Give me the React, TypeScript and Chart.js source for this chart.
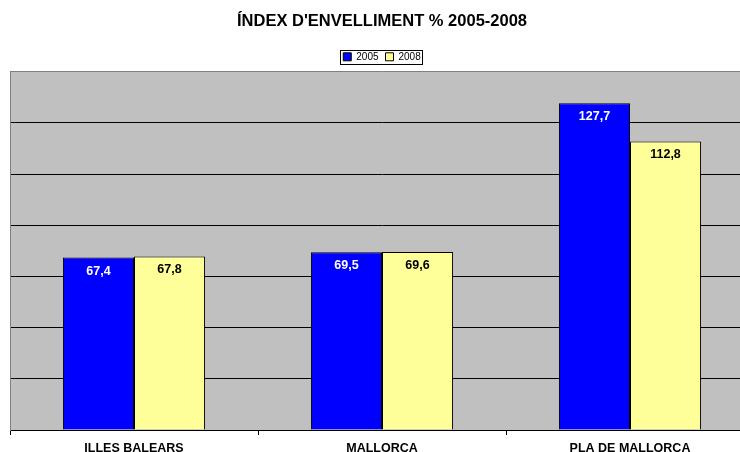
import React, { useEffect, useRef } from "react";
import { Chart, registerables } from "chart.js";

Chart.register(...registerables);

const categories = ["ILLES BALEARS", "MALLORCA", "PLA DE MALLORCA"];
const values2005 = [67.4, 69.5, 127.7];
const values2008 = [67.8, 69.6, 112.8];
const seriesLabels = ["2005", "2008"];
const yMax = 140;
const yStep = 20;

const FONT = "Arial, 'Liberation Sans', Helvetica, sans-serif";

const bgPlugin = {
  id: "plotBg",
  beforeDraw(chart: any) {
    const { ctx, chartArea } = chart;
    ctx.save();
    ctx.fillStyle = "#C0C0C0";
    ctx.fillRect(chartArea.left, chartArea.top, chartArea.right - chartArea.left, chartArea.bottom - chartArea.top);
    ctx.restore();
  },
  afterDraw(chart: any) {
    const lg = chart.legend;
    const { ctx } = chart;
    if (lg && lg.legendHitBoxes && lg.legendHitBoxes.length) {
      const boxes = lg.legendHitBoxes;
      let l = Infinity, r = -Infinity, t = Infinity, b = -Infinity;
      boxes.forEach((h: any) => {
        l = Math.min(l, h.left);
        r = Math.max(r, h.left + h.width);
        t = Math.min(t, h.top);
        b = Math.max(b, h.top + h.height);
      });
      ctx.save();
      ctx.strokeStyle = "#000";
      ctx.lineWidth = 1;
      const x0 = Math.round(l - 3) + 0.5;
      const y0 = Math.round(t - 2) + 0.5;
      ctx.strokeRect(x0, y0, Math.round(r - l + 5), Math.round(b - t + 4));
      ctx.restore();
    }
  },
};

const labelPlugin = {
  id: "valueLabels",
  afterDatasetsDraw(chart: any) {
    const { ctx } = chart;
    ctx.save();
    ctx.font = `bold 12.5px ${FONT}`;
    ctx.textAlign = "center";
    ctx.textBaseline = "middle";
    chart.data.datasets.forEach((ds: any, di: number) => {
      const meta = chart.getDatasetMeta(di);
      meta.data.forEach((bar: any, i: number) => {
        const v = ds.data[i] as number;
        ctx.fillStyle = di === 0 ? "#FFFFFF" : "#000000";
        ctx.fillText(v.toFixed(1).replace(".", ","), bar.x, bar.y + 13.5);
      });
    });
    ctx.restore();
  },
};

export default function App() {
  const ref = useRef<HTMLCanvasElement | null>(null);
  useEffect(() => {
    if (!ref.current) return;
    const chart = new Chart(ref.current, {
      type: "bar",
      data: {
        labels: categories,
        datasets: [
          {
            label: seriesLabels[0],
            data: values2005,
            backgroundColor: "#0000FF",
            borderColor: "#000000",
            borderWidth: 1,
            barPercentage: 1,
            categoryPercentage: 0.573,
          },
          {
            label: seriesLabels[1],
            data: values2008,
            backgroundColor: "#FFFF99",
            borderColor: "#000000",
            borderWidth: 1,
            barPercentage: 1,
            categoryPercentage: 0.573,
          },
        ],
      },
      options: {
        animation: false,
        responsive: false,
        maintainAspectRatio: false,
        layout: { padding: { left: 10, right: 10, top: 0, bottom: 0 } },
        plugins: {
          title: {
            display: true,
            text: "ÍNDEX D'ENVELLIMENT % 2005-2008",
            color: "#000",
            font: { family: FONT, size: 16.5, weight: "bold" },
            padding: { top: 12, bottom: 13 },
          },
          legend: {
            display: true,
            position: "top",
            labels: {
              color: "#000",
              font: { family: FONT, size: 10 },
              boxWidth: 8,
              boxHeight: 8,
              padding: 7,
            },
          },
          tooltip: { enabled: false },
        },
        scales: {
          x: {
            grid: {
              offset: true,
              drawOnChartArea: false,
              drawTicks: true,
              tickLength: 5,
              color: "#000",
            },
            border: { display: true, color: "#000", width: 1 },
            ticks: {
              color: "#000",
              font: { family: FONT, size: 12.5, weight: "bold" },
              padding: 6,
              maxRotation: 0,
            },
          },
          y: {
            min: 0,
            max: yMax,
            ticks: { display: false, stepSize: yStep },
            grid: {
              drawTicks: false,
              color: (c: any) => (c.tick && c.tick.value === yMax ? "#808080" : "#000000"),
              lineWidth: 1,
            },
            border: { display: true, color: "#808080", width: 1 },
          },
        },
      },
      plugins: [bgPlugin, labelPlugin],
    });
    return () => chart.destroy();
  }, []);
  return (
    <div style={{ position: "fixed", left: 0, top: 0, width: "740px", height: "452px", overflow: "hidden", background: "#fff" }}>
      <canvas ref={ref} width={764} height={462} style={{ display: "block" }} />
    </div>
  );
}
